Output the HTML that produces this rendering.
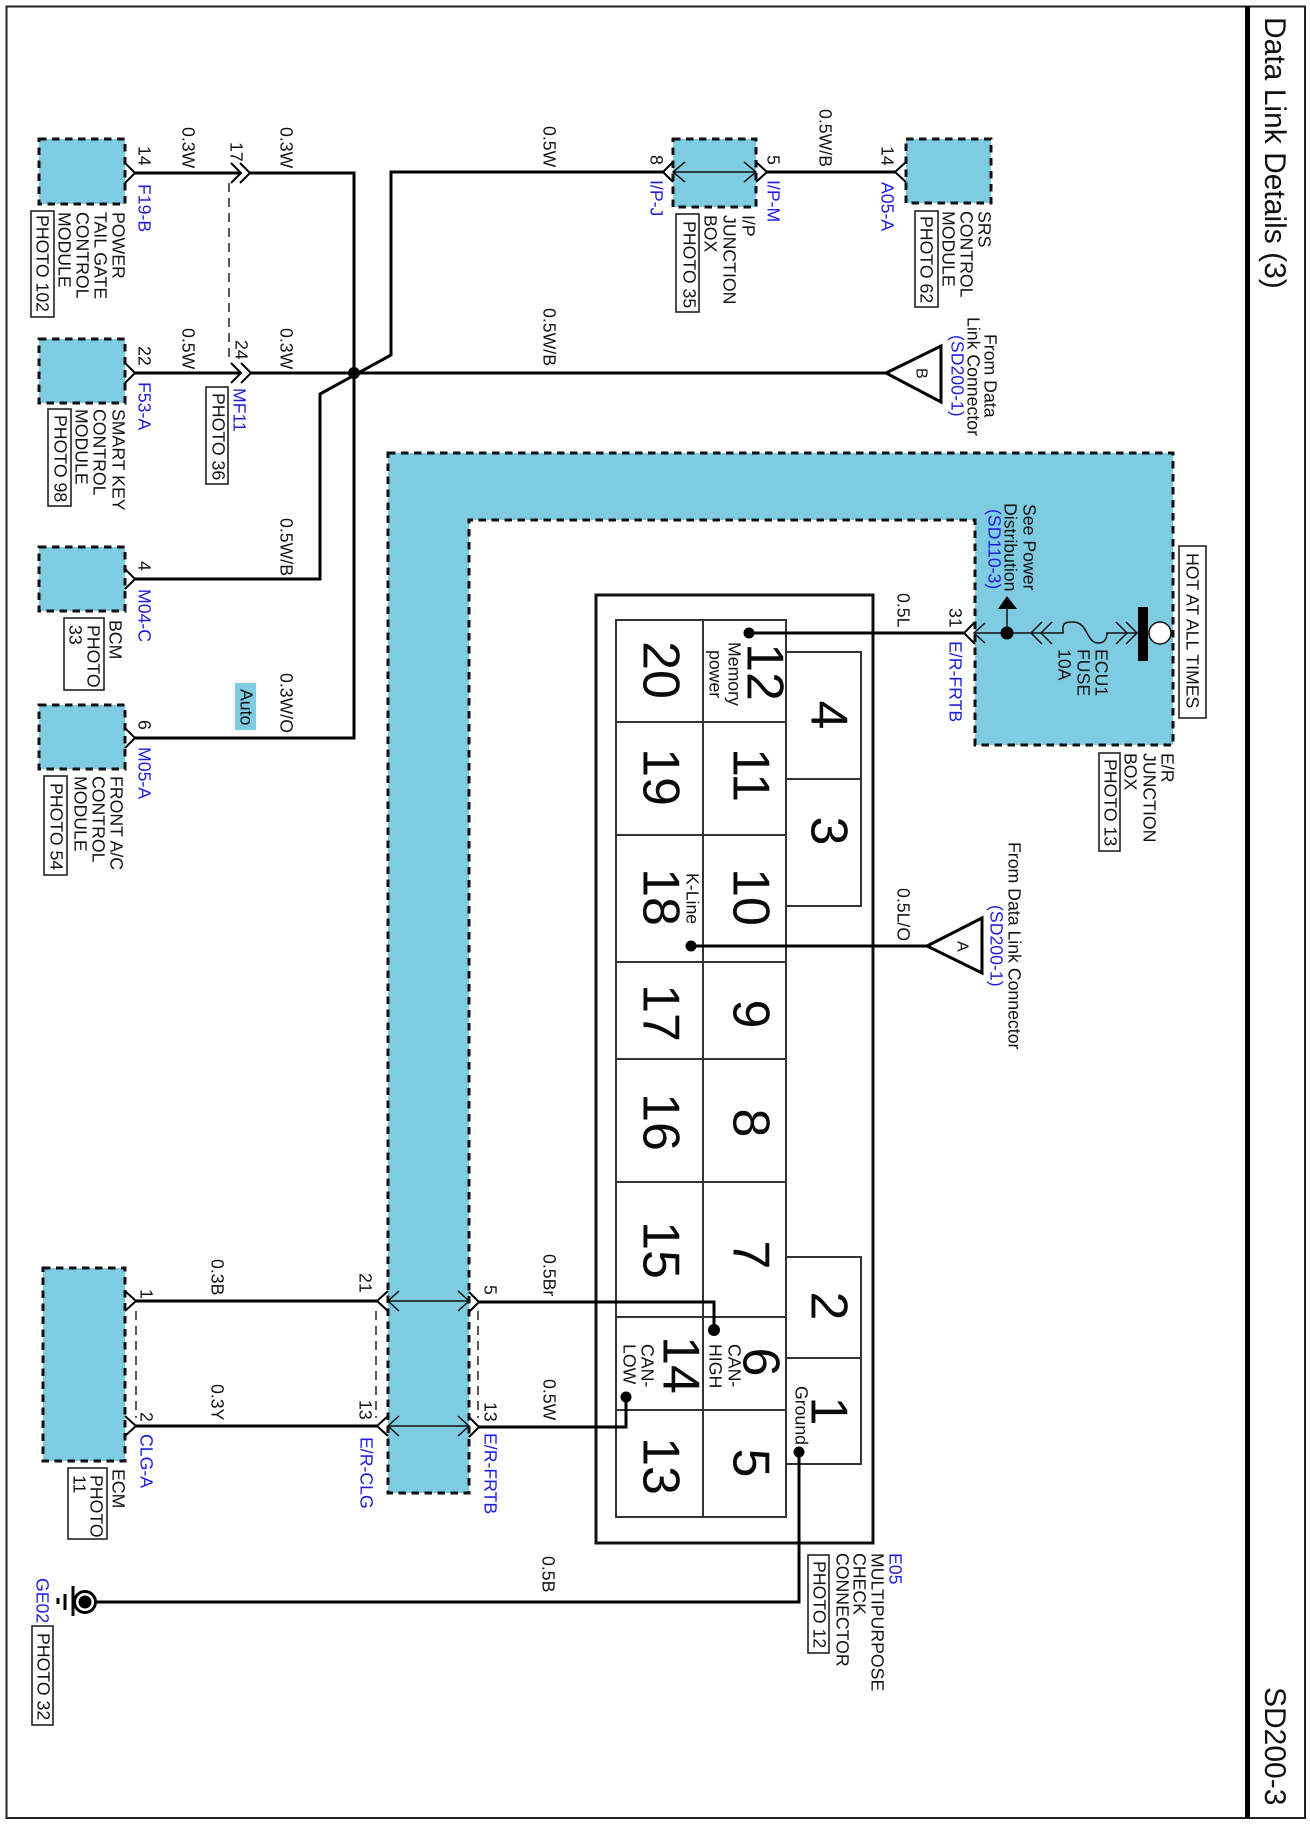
<!DOCTYPE html>
<html><head><meta charset="utf-8"><style>
html,body{margin:0;padding:0;background:#fff}
svg{display:block}
text{font-family:"Liberation Sans",sans-serif;font-size:17.7px;fill:#111;text-rendering:geometricPrecision}
.b{fill:#1c1ce0}
.n{font-size:52px;text-anchor:middle;fill:#0a0a0a}
.T{font-size:30px}
.bx{fill:#7ecbe2;stroke:#111;stroke-width:3;stroke-dasharray:7.5 5.5}
.w{fill:none;stroke:#000;stroke-width:3}
.c{fill:none;stroke:#000;stroke-width:2}
.t{fill:none;stroke:#111;stroke-width:1.5}
.g{fill:none;stroke:#333;stroke-width:2}
.p{fill:#fff;stroke:#222;stroke-width:1.6}
.d{fill:none;stroke:#222;stroke-width:1.5;stroke-dasharray:9 6}
</style></head><body>
<svg width="1310" height="1824" viewBox="0 0 1310 1824" xmlns="http://www.w3.org/2000/svg">
<rect x="0" y="0" width="1310" height="1824" fill="#fff"/>
<rect x="6.5" y="6.5" width="1298.5" height="1811.5" fill="none" stroke="#222" stroke-width="2"/>
<rect x="1245" y="6" width="5" height="1812" fill="#000"/>

<!-- blue shapes -->
<rect class="bx" x="39" y="139" width="86" height="65"/>
<rect class="bx" x="39" y="339" width="86" height="64"/>
<rect class="bx" x="39" y="547" width="86" height="64"/>
<rect class="bx" x="39" y="705" width="86" height="64"/>
<rect class="bx" x="43" y="1268" width="82" height="193"/>
<rect class="bx" x="673" y="139" width="83" height="68"/>
<rect class="bx" x="906" y="139" width="85" height="64"/>
<polygon class="bx" points="388,453 1173,453 1173,745 975,745 975,520 469,520 469,1493 388,1493"/>
<rect x="235" y="683" width="21" height="47" fill="#7ecbe2"/>

<!-- connector body -->
<rect x="596" y="595" width="277" height="948" fill="none" stroke="#111" stroke-width="3"/>
<rect class="g" x="616" y="620" width="170" height="897"/>
<path class="g" d="M703 620V1517M616 722H786M616 835H786M616 962H786M616 1059H786M616 1182H786M616 1317H786M616 1410H786"/>
<rect class="g" x="786" y="652" width="75" height="254"/>
<path class="g" d="M786 779H861"/>
<rect class="g" x="786" y="1257" width="75" height="207"/>
<path class="g" d="M786 1358H861"/>

<!-- wires -->
<path class="w" d="M135 173H241M250 173H354V738H135"/>
<path class="w" d="M135 373H241M251 373H886"/>
<path class="w" d="M135 579H320V394L391 355V172H663"/>
<path class="w" d="M767 172H895"/>
<path class="w" d="M749 633H964"/>
<path class="w" d="M691 946H927"/>
<path class="w" d="M136 1301H377M136 1426H377"/>
<path class="w" d="M479 1302H714V1330"/>
<path class="w" d="M479 1427H626V1397"/>
<path class="w" d="M799 1452V1602H97"/>
<circle cx="354" cy="373" r="6" fill="#000"/>
<circle cx="749" cy="633" r="5.5" fill="#000"/>
<circle cx="691" cy="946" r="5.5" fill="#000"/>
<circle cx="714" cy="1330" r="6" fill="#000"/>
<circle cx="626" cy="1397" r="5.5" fill="#000"/>
<circle cx="799" cy="1452" r="5.5" fill="#000"/>

<!-- dashed links -->
<path class="d" d="M229 183V362"/>
<path class="d" d="M136 1311V1418M376 1311V1418M478 1311V1418"/>

<!-- chevrons -->
<path class="c" d="M125 163L135 173L125 183M125 363L135 373L125 383M125 569L135 579L125 589M125 728L135 738L125 748"/>
<path class="c" d="M231 163L241 173L231 183M240 163L250 173L240 183M231 363L241 373L231 383M241 363L251 373L241 383"/>
<path class="c" d="M125 1291L136 1301L125 1311M125 1416L136 1426L125 1436"/>
<path class="c" d="M673 162L663 172L673 182M756 162L767 172L756 182M906 162L895 172L906 182"/>
<path class="c" d="M388 1291L377 1301L388 1311M388 1416L377 1426L388 1436M469 1292L479 1302L469 1312M469 1417L479 1427L469 1437"/>
<path class="c" d="M975 622L964 633L975 644"/>
<!-- thin inner arrows -->
<path class="t" d="M673 172H756M685 162L673 172L685 182M744 162L756 172L744 182"/>
<path class="t" d="M388 1301H469M399 1291L388 1301L399 1311M458 1291L469 1301L458 1311"/>
<path class="t" d="M388 1426H469M399 1416L388 1426L399 1436M458 1416L469 1426L458 1436"/>

<!-- triangles -->
<polygon points="886,373 941,346 941,402" fill="#fff" stroke="#000" stroke-width="3"/>
<polygon points="927,946 982,918 982,973" fill="#fff" stroke="#000" stroke-width="3"/>

<!-- fuse assembly -->
<path class="t" d="M974 633H1063V628C1063 622 1068 622 1073 622C1084 622 1086 633 1090 638C1093 642 1095 643 1098 643C1105 643 1107 638 1107 633H1137"/>
<path class="t" d="M985 623L974 633L985 643M1042 622L1031 633L1042 644M1052 622L1041 633L1052 644M1116 622L1127 633L1116 644M1126 622L1137 633L1126 644"/>
<circle cx="1007" cy="633" r="6.5" fill="#000"/>
<path class="t" d="M1007 633V606"/>
<polygon points="1007,596 998,609 1017,609" fill="#000"/>
<rect x="1138" y="607" width="10" height="54" fill="#000"/>
<circle cx="1160" cy="633" r="11" fill="#fff" stroke="#111" stroke-width="1.5"/>

<!-- ground -->
<circle cx="85" cy="1602" r="10.5" fill="#fff" stroke="#000" stroke-width="3"/>
<circle cx="85" cy="1602" r="6.5" fill="#000"/>
<path class="w" d="M73 1586V1616"/>
<path class="w" d="M65 1594V1610"/>
<path class="w" d="M58 1598V1604"/>

<!-- photo boxes -->
<rect class="p" x="31" y="211" width="23" height="106"/>
<rect class="p" x="48" y="409" width="23" height="97"/>
<rect class="p" x="206" y="387" width="22" height="97"/>
<rect class="p" x="64" y="618" width="40" height="72"/>
<rect class="p" x="44" y="776" width="23" height="99"/>
<rect class="p" x="676" y="214" width="23" height="98"/>
<rect class="p" x="915" y="211" width="23" height="96"/>
<rect class="p" x="1179" y="546" width="27" height="172"/>
<rect class="p" x="1099" y="753" width="21" height="98"/>
<rect class="p" x="68" y="1468" width="39" height="71"/>
<rect class="p" x="32" y="1626" width="21" height="99"/>
<rect class="p" x="808" y="1555" width="21" height="98"/>

<!-- title -->
<text class="T" transform="matrix(0 1 -1 0 1265 17)">Data Link Details (3)</text>
<text class="T" transform="matrix(0 1 -1 0 1265 1687)">SD200-3</text>

<g transform="translate(1.5,0)">
<!-- left group -->
<text transform="matrix(0 1 -1 0 181 127)">0.3W</text>
<text transform="matrix(0 1 -1 0 229 142)">17</text>
<text transform="matrix(0 1 -1 0 279 127)">0.3W</text>
<text transform="matrix(0 1 -1 0 137 146)">14</text>
<text class="b" transform="matrix(0 1 -1 0 137 184)">F19-B</text>
<text transform="matrix(0 1 -1 0 111 212)">POWER</text>
<text transform="matrix(0 1 -1 0 93 212)">TAIL GATE</text>
<text transform="matrix(0 1 -1 0 75 212)">CONTROL</text>
<text transform="matrix(0 1 -1 0 57 212)">MODULE</text>
<text transform="matrix(0 1 -1 0 35 215)">PHOTO 102</text>
<text transform="matrix(0 1 -1 0 181 328)">0.5W</text>
<text transform="matrix(0 1 -1 0 234 340)">24</text>
<text transform="matrix(0 1 -1 0 279 328)">0.3W</text>
<text transform="matrix(0 1 -1 0 137 346)">22</text>
<text class="b" transform="matrix(0 1 -1 0 137 382)">F53-A</text>
<text transform="matrix(0 1 -1 0 111 409)">SMART KEY</text>
<text transform="matrix(0 1 -1 0 92 409)">CONTROL</text>
<text transform="matrix(0 1 -1 0 74 409)">MODULE</text>
<text transform="matrix(0 1 -1 0 53 415)">PHOTO 98</text>
<text class="b" transform="matrix(0 1 -1 0 232 388)">MF11</text>
<text transform="matrix(0 1 -1 0 211 393)">PHOTO 36</text>
<text transform="matrix(0 1 -1 0 279 518)">0.5W/B</text>
<text transform="matrix(0 1 -1 0 137 561)">4</text>
<text class="b" transform="matrix(0 1 -1 0 137 589)">M04-C</text>
<text transform="matrix(0 1 -1 0 108 620)">BCM</text>
<text transform="matrix(0 1 -1 0 86 625)">PHOTO</text>
<text transform="matrix(0 1 -1 0 68 625)">33</text>
<text transform="matrix(0 1 -1 0 279 673)">0.3W/O</text>
<text transform="matrix(0 1 -1 0 239 689)">Auto</text>
<text transform="matrix(0 1 -1 0 137 720)">6</text>
<text class="b" transform="matrix(0 1 -1 0 137 747)">M05-A</text>
<text transform="matrix(0 1 -1 0 109 776)">FRONT A/C</text>
<text transform="matrix(0 1 -1 0 91 776)">CONTROL</text>
<text transform="matrix(0 1 -1 0 73 776)">MODULE</text>
<text transform="matrix(0 1 -1 0 49 783)">PHOTO 54</text>

<!-- top middle -->
<text transform="matrix(0 1 -1 0 542 126)">0.5W</text>
<text transform="matrix(0 1 -1 0 649 155)">8</text>
<text class="b" transform="matrix(0 1 -1 0 649 180)">I/P-J</text>
<text transform="matrix(0 1 -1 0 766 155)">5</text>
<text class="b" transform="matrix(0 1 -1 0 766 180)">I/P-M</text>
<text transform="matrix(0 1 -1 0 818 109)">0.5W/B</text>
<text transform="matrix(0 1 -1 0 880 146)">14</text>
<text class="b" transform="matrix(0 1 -1 0 880 182)">A05-A</text>
<text transform="matrix(0 1 -1 0 741 215)">I/P</text>
<text transform="matrix(0 1 -1 0 722 215)">JUNCTION</text>
<text transform="matrix(0 1 -1 0 703 215)">BOX</text>
<text transform="matrix(0 1 -1 0 682 221)">PHOTO 35</text>
<text transform="matrix(0 1 -1 0 977 211)">SRS</text>
<text transform="matrix(0 1 -1 0 959 211)">CONTROL</text>
<text transform="matrix(0 1 -1 0 941 211)">MODULE</text>
<text transform="matrix(0 1 -1 0 919 216)">PHOTO 62</text>
<text transform="matrix(0 1 -1 0 542 308)">0.5W/B</text>
<text style="font-size:16px" transform="matrix(0 1 -1 0 915 368)">B</text>
<text transform="matrix(0 1 -1 0 983 334)">From Data</text>
<text transform="matrix(0 1 -1 0 966 317)">Link Connector</text>
<text class="b" transform="matrix(0 1 -1 0 950 335)">(SD200-1)</text>

<!-- fuse box labels -->
<text transform="matrix(0 1 -1 0 1022 504)">See Power</text>
<text transform="matrix(0 1 -1 0 1003 503)">Distribution</text>
<text class="b" transform="matrix(0 1 -1 0 987 509)">(SD110-3)</text>
<text transform="matrix(0 1 -1 0 1185 553)">HOT AT ALL TIMES</text>
<text transform="matrix(0 1 -1 0 1094 649)">ECU1</text>
<text transform="matrix(0 1 -1 0 1076 649)">FUSE</text>
<text transform="matrix(0 1 -1 0 1057 649)">10A</text>
<text transform="matrix(0 1 -1 0 948 608)">31</text>
<text class="b" transform="matrix(0 1 -1 0 948 641)">E/R-FRTB</text>
<text transform="matrix(0 1 -1 0 1160 753)">E/R</text>
<text transform="matrix(0 1 -1 0 1142 753)">JUNCTION</text>
<text transform="matrix(0 1 -1 0 1123 753)">BOX</text>
<text transform="matrix(0 1 -1 0 1103 759)">PHOTO 13</text>
<text transform="matrix(0 1 -1 0 896 593)">0.5L</text>
<text transform="matrix(0 1 -1 0 896 888)">0.5L/O</text>
<text transform="matrix(0 1 -1 0 1007 842)">From Data Link Connector</text>
<text class="b" transform="matrix(0 1 -1 0 989 905)">(SD200-1)</text>
<text style="font-size:16px" transform="matrix(0 1 -1 0 956 941)">A</text>

<!-- connector numbers -->
<text class="n" transform="matrix(0 1 -1 0 642 670)">20</text>
<text class="n" transform="matrix(0 1 -1 0 746 672)">12</text>
<text class="n" transform="matrix(0 1 -1 0 642 777)">19</text>
<text class="n" transform="matrix(0 1 -1 0 732 775)">11</text>
<text class="n" transform="matrix(0 1 -1 0 642 897)">18</text>
<text class="n" transform="matrix(0 1 -1 0 732 897)">10</text>
<text class="n" transform="matrix(0 1 -1 0 642 1013)">17</text>
<text class="n" transform="matrix(0 1 -1 0 732 1014)">9</text>
<text class="n" transform="matrix(0 1 -1 0 642 1122)">16</text>
<text class="n" transform="matrix(0 1 -1 0 732 1123)">8</text>
<text class="n" transform="matrix(0 1 -1 0 642 1250)">15</text>
<text class="n" transform="matrix(0 1 -1 0 732 1255)">7</text>
<text class="n" transform="matrix(0 1 -1 0 662 1365)">14</text>
<text class="n" transform="matrix(0 1 -1 0 742 1362)">6</text>
<text class="n" transform="matrix(0 1 -1 0 642 1466)">13</text>
<text class="n" transform="matrix(0 1 -1 0 732 1463)">5</text>
<text class="n" transform="matrix(0 1 -1 0 810 715)">4</text>
<text class="n" transform="matrix(0 1 -1 0 810 831)">3</text>
<text class="n" transform="matrix(0 1 -1 0 810 1306)">2</text>
<text class="n" transform="matrix(0 1 -1 0 810 1411)">1</text>
<text transform="matrix(0 1 -1 0 727 642)">Memory</text>
<text transform="matrix(0 1 -1 0 708 650)">power</text>
<text transform="matrix(0 1 -1 0 685 873)">K-Line</text>
<text transform="matrix(0 1 -1 0 727 1344)">CAN-</text>
<text transform="matrix(0 1 -1 0 708 1344)">HIGH</text>
<text transform="matrix(0 1 -1 0 640 1344)">CAN-</text>
<text transform="matrix(0 1 -1 0 622 1344)">LOW</text>
<text transform="matrix(0 1 -1 0 794 1386)">Ground</text>

<!-- bottom labels -->
<text transform="matrix(0 1 -1 0 210 1259)">0.3B</text>
<text transform="matrix(0 1 -1 0 139 1289)">1</text>
<text transform="matrix(0 1 -1 0 358 1273)">21</text>
<text transform="matrix(0 1 -1 0 483 1285)">5</text>
<text transform="matrix(0 1 -1 0 542 1254)">0.5Br</text>
<text transform="matrix(0 1 -1 0 210 1384)">0.3Y</text>
<text transform="matrix(0 1 -1 0 139 1412)">2</text>
<text transform="matrix(0 1 -1 0 358 1400)">13</text>
<text transform="matrix(0 1 -1 0 483 1402)">13</text>
<text transform="matrix(0 1 -1 0 542 1379)">0.5W</text>
<text class="b" transform="matrix(0 1 -1 0 139 1434)">CLG-A</text>
<text class="b" transform="matrix(0 1 -1 0 359 1437)">E/R-CLG</text>
<text class="b" transform="matrix(0 1 -1 0 483 1433)">E/R-FRTB</text>
<text transform="matrix(0 1 -1 0 111 1469)">ECM</text>
<text transform="matrix(0 1 -1 0 89 1475)">PHOTO</text>
<text transform="matrix(0 1 -1 0 72 1475)">11</text>
<text class="b" transform="matrix(0 1 -1 0 35 1578)">GE02</text>
<text transform="matrix(0 1 -1 0 36 1633)">PHOTO 32</text>
<text transform="matrix(0 1 -1 0 541 1556)">0.5B</text>
<text class="b" transform="matrix(0 1 -1 0 888 1553)">E05</text>
<text transform="matrix(0 1 -1 0 870 1553)">MULTIPURPOSE</text>
<text transform="matrix(0 1 -1 0 852 1553)">CHECK</text>
<text transform="matrix(0 1 -1 0 835 1553)">CONNECTOR</text>
<text transform="matrix(0 1 -1 0 812 1561)">PHOTO 12</text>
</g>
</svg>
</body></html>
